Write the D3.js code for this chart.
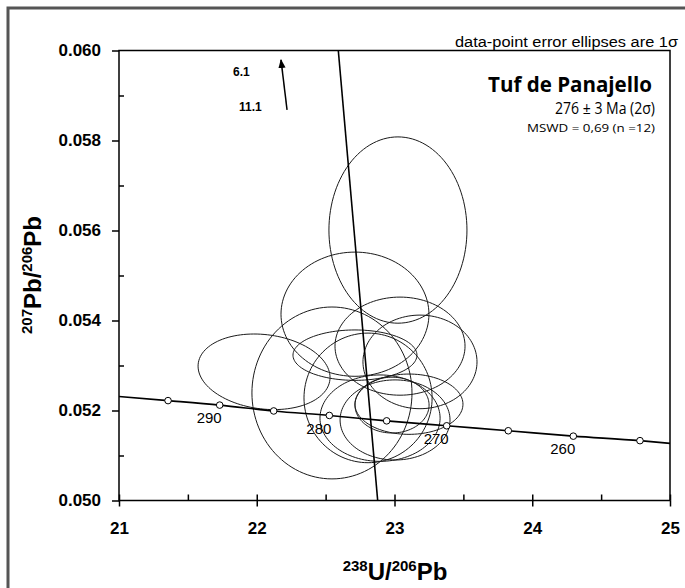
<!DOCTYPE html>
<html>
<head>
<meta charset="utf-8">
<script src="https://cdn.jsdelivr.net/npm/d3@7"></script>
<style>
  body { margin: 0; background: #fff; }
  svg text { font-family: "Liberation Sans", Arial, sans-serif; }
</style>
</head>
<body>
<svg id="canvas" width="685" height="588"></svg>
<script>
// axis ticks
let xMajor = [21, 22, 23, 24, 25]
let xMinor = [21.5, 22.5, 23.5, 24.5]
let yMajor = [0.050, 0.052, 0.054, 0.056, 0.058, 0.060]
let yMinor = [0.051, 0.053, 0.055, 0.057, 0.059]

// data-point error ellipses (1 sigma): centre, half-widths, correlation
let ellX   = [23.025, 22.713, 22.053, 22.546, 23.040, 23.185, 22.713, 22.808, 23.105, 23.004, 22.895, 22.982]
let ellSX  = [0.501, 0.537, 0.479, 0.581, 0.472, 0.414, 0.450, 0.465, 0.392, 0.399, 0.436, 0.269]
let ellY   = [0.05601, 0.05414, 0.05286, 0.05239, 0.05343, 0.05308, 0.05323, 0.05228, 0.05214, 0.05179, 0.05183, 0.05212]
let ellSY  = [0.00207, 0.00138, 0.00084, 0.00191, 0.00109, 0.00104, 0.00056, 0.00144, 0.00067, 0.00089, 0.00096, 0.00062]
let ellRho = [0, 0, -0.15, 0, 0, 0, 0, 0, 0, 0, 0, 0]

// concordia curve with age marks (Ma)
let concX = [21, 21.356, 21.731, 22.123, 22.527, 22.943, 23.379, 23.826, 24.298, 24.782, 25]
let concY = [0.05231, 0.05222, 0.05212, 0.05199, 0.05189, 0.05177, 0.05166, 0.05155, 0.05143, 0.05133, 0.05127]
let markAges = [295, 290, 285, 280, 275, 270, 265, 260, 255]
let markX = [21.356, 21.731, 22.123, 22.527, 22.943, 23.379, 23.826, 24.298, 24.782]
let markY = [0.05222, 0.05212, 0.05199, 0.05189, 0.05177, 0.05166, 0.05155, 0.05143, 0.05133]
let labelAges = [290, 280, 270, 260]

// regression (discordia) line
let discX = [22.592, 22.878]
let discY = [0.060, 0.050]

// off-scale points arrow
let arrowX = [22.220, 22.176]
let arrowY = [0.05868, 0.05979]
let offNames = ['6.1', '11.1']
let offX = [21.828, 21.871]
let offY = [0.05952, 0.05874]

let canvas = d3.select('#canvas')

let x = d3.scaleLinear().domain([21, 25]).range([119, 670])
let y = d3.scaleLinear().domain([0.050, 0.060]).range([500.5, 50.5])

// outer frame
canvas.append('rect')
  .attr('x', 8).attr('y', 8).attr('width', 720).attr('height', 620)
  .attr('fill', 'none').attr('stroke', '#555').attr('stroke-width', 3)

// ellipses
let ellipsePath = (i) => {
  let pts = []
  for (let k = 0; k <= 120; k++) {
    let t = k / 120 * 2 * Math.PI
    let r = ellRho[i]
    pts.push([x(ellX[i] + ellSX[i] * Math.cos(t)),
              y(ellY[i] + ellSY[i] * (r * Math.cos(t) + Math.sqrt(1 - r * r) * Math.sin(t)))])
  }
  return d3.line()(pts) + 'Z'
}

canvas.append('g').selectAll('path')
  .data(d3.range(ellX.length))
  .enter()
  .append('path')
  .attr('d', ellipsePath)
  .attr('fill', 'none')
  .attr('stroke', '#1a1a1a')
  .attr('stroke-width', 1)

// concordia
canvas.append('path')
  .attr('d', d3.line().curve(d3.curveMonotoneX)(concX.map((v, i) => [x(v), y(concY[i])])))
  .attr('fill', 'none').attr('stroke', '#000').attr('stroke-width', 1.6)

canvas.append('g').selectAll('circle')
  .data(markAges)
  .enter()
  .append('circle')
  .attr('cx', (d, i) => x(markX[i]))
  .attr('cy', (d, i) => y(markY[i]))
  .attr('r', 3.3)
  .attr('fill', '#fff').attr('stroke', '#000').attr('stroke-width', 1)

canvas.append('g').selectAll('text')
  .data(labelAges)
  .enter()
  .append('text')
  .attr('x', (d) => x(markX[markAges.indexOf(d)]) - 10.5)
  .attr('y', (d) => y(markY[markAges.indexOf(d)]) + 13)
  .attr('dy', '0.35em')
  .attr('text-anchor', 'middle')
  .attr('font-size', 15)
  .text((d) => d)

// discordia
canvas.append('line')
  .attr('x1', x(discX[0])).attr('y1', y(discY[0]))
  .attr('x2', x(discX[1])).attr('y2', y(discY[1]))
  .attr('stroke', '#000').attr('stroke-width', 1.6)

// arrow for off-scale points
canvas.append('defs').append('marker')
  .attr('id', 'head').attr('viewBox', '0 0 10 10')
  .attr('refX', 9).attr('refY', 5)
  .attr('markerWidth', 6).attr('markerHeight', 6)
  .attr('orient', 'auto')
  .append('path').attr('d', 'M0,1 L10,5 L0,9 Z').attr('fill', '#000')

canvas.append('line')
  .attr('x1', x(arrowX[0])).attr('y1', y(arrowY[0]))
  .attr('x2', x(arrowX[1])).attr('y2', y(arrowY[1]))
  .attr('stroke', '#000').attr('stroke-width', 1.5)
  .attr('marker-end', 'url(#head)')

canvas.append('g').selectAll('text')
  .data(offNames)
  .enter()
  .append('text')
  .attr('x', (d, i) => x(offX[i]))
  .attr('y', (d, i) => y(offY[i]))
  .attr('dy', '0.35em')
  .attr('font-size', 12)
  .attr('font-weight', 'bold')
  .text((d) => d)

// plot box
canvas.append('rect')
  .attr('x', 119).attr('y', 50.5).attr('width', 551).attr('height', 450)
  .attr('fill', 'none').attr('stroke', '#000').attr('stroke-width', 1.5)

// axes
let styleAxis = (g) => {
  g.select('.domain').remove()
  g.selectAll('line').attr('stroke', '#000').attr('stroke-width', 1.5)
  g.selectAll('text').attr('font-size', 17).attr('font-weight', 'bold')
    .attr('font-family', '"Liberation Sans", Arial, sans-serif').attr('fill', '#000')
}

canvas.append('g').attr('transform', 'translate(0,500.5)')
  .call(d3.axisBottom(x).tickValues(xMajor).tickSize(6).tickPadding(15).tickFormat(d3.format('d')))
  .call(styleAxis)
canvas.append('g').attr('transform', 'translate(0,500.5)')
  .call(d3.axisBottom(x).tickValues(xMajor).tickSize(-6).tickFormat(''))
  .call(styleAxis)
canvas.append('g').attr('transform', 'translate(0,500.5)')
  .call(d3.axisBottom(x).tickValues(xMinor).tickSize(-6).tickFormat(''))
  .call(styleAxis)

canvas.append('g').attr('transform', 'translate(119,0)')
  .call(d3.axisLeft(y).tickValues(yMajor).tickSize(7).tickPadding(11).tickFormat(d3.format('.3f')))
  .call(styleAxis)
canvas.append('g').attr('transform', 'translate(119,0)')
  .call(d3.axisLeft(y).tickValues(yMinor).tickSize(-5).tickFormat(''))
  .call(styleAxis)

// axis titles
let xt = canvas.append('text')
  .attr('x', 395).attr('y', 580)
  .attr('text-anchor', 'middle')
  .attr('font-weight', 'bold').attr('font-size', 24)
xt.append('tspan').attr('font-size', 15).attr('dy', -9).text('238')
xt.append('tspan').attr('dy', 9).text('U/')
xt.append('tspan').attr('font-size', 15).attr('dy', -9).text('206')
xt.append('tspan').attr('dy', 9).text('Pb')

let yt = canvas.append('text')
  .attr('transform', 'translate(41,275) rotate(-90)')
  .attr('text-anchor', 'middle')
  .attr('font-weight', 'bold').attr('font-size', 24)
yt.append('tspan').attr('font-size', 15).attr('dy', -9).text('207')
yt.append('tspan').attr('dy', 9).text('Pb/')
yt.append('tspan').attr('font-size', 15).attr('dy', -9).text('206')
yt.append('tspan').attr('dy', 9).text('Pb')

// annotations
canvas.append('text')
  .attr('x', 678).attr('y', 46.5)
  .attr('text-anchor', 'end').attr('font-size', 14)
  .attr('textLength', 223).attr('lengthAdjust', 'spacingAndGlyphs')
  .text('data-point error ellipses are 1σ')

canvas.append('text')
  .attr('x', 652).attr('y', 92)
  .attr('text-anchor', 'end').attr('font-size', 22).attr('font-weight', 'bold')
  .style('font-family', '"Open Sans", "Noto Sans", sans-serif')
  .attr('textLength', 164).attr('lengthAdjust', 'spacingAndGlyphs')
  .text('Tuf de Panajello')

canvas.append('text')
  .attr('x', 655).attr('y', 114)
  .attr('text-anchor', 'end').attr('font-size', 16)
  .style('font-family', '"Open Sans", "Noto Sans", sans-serif')
  .attr('textLength', 100).attr('lengthAdjust', 'spacingAndGlyphs')
  .text('276 ± 3 Ma (2σ)')

canvas.append('text')
  .attr('x', 655).attr('y', 132)
  .attr('text-anchor', 'end').attr('font-size', 11)
  .style('font-family', '"Open Sans", "Noto Sans", sans-serif')
  .attr('textLength', 128).attr('lengthAdjust', 'spacingAndGlyphs')
  .text('MSWD = 0,69 (n =12)')
</script>
</body>
</html>
